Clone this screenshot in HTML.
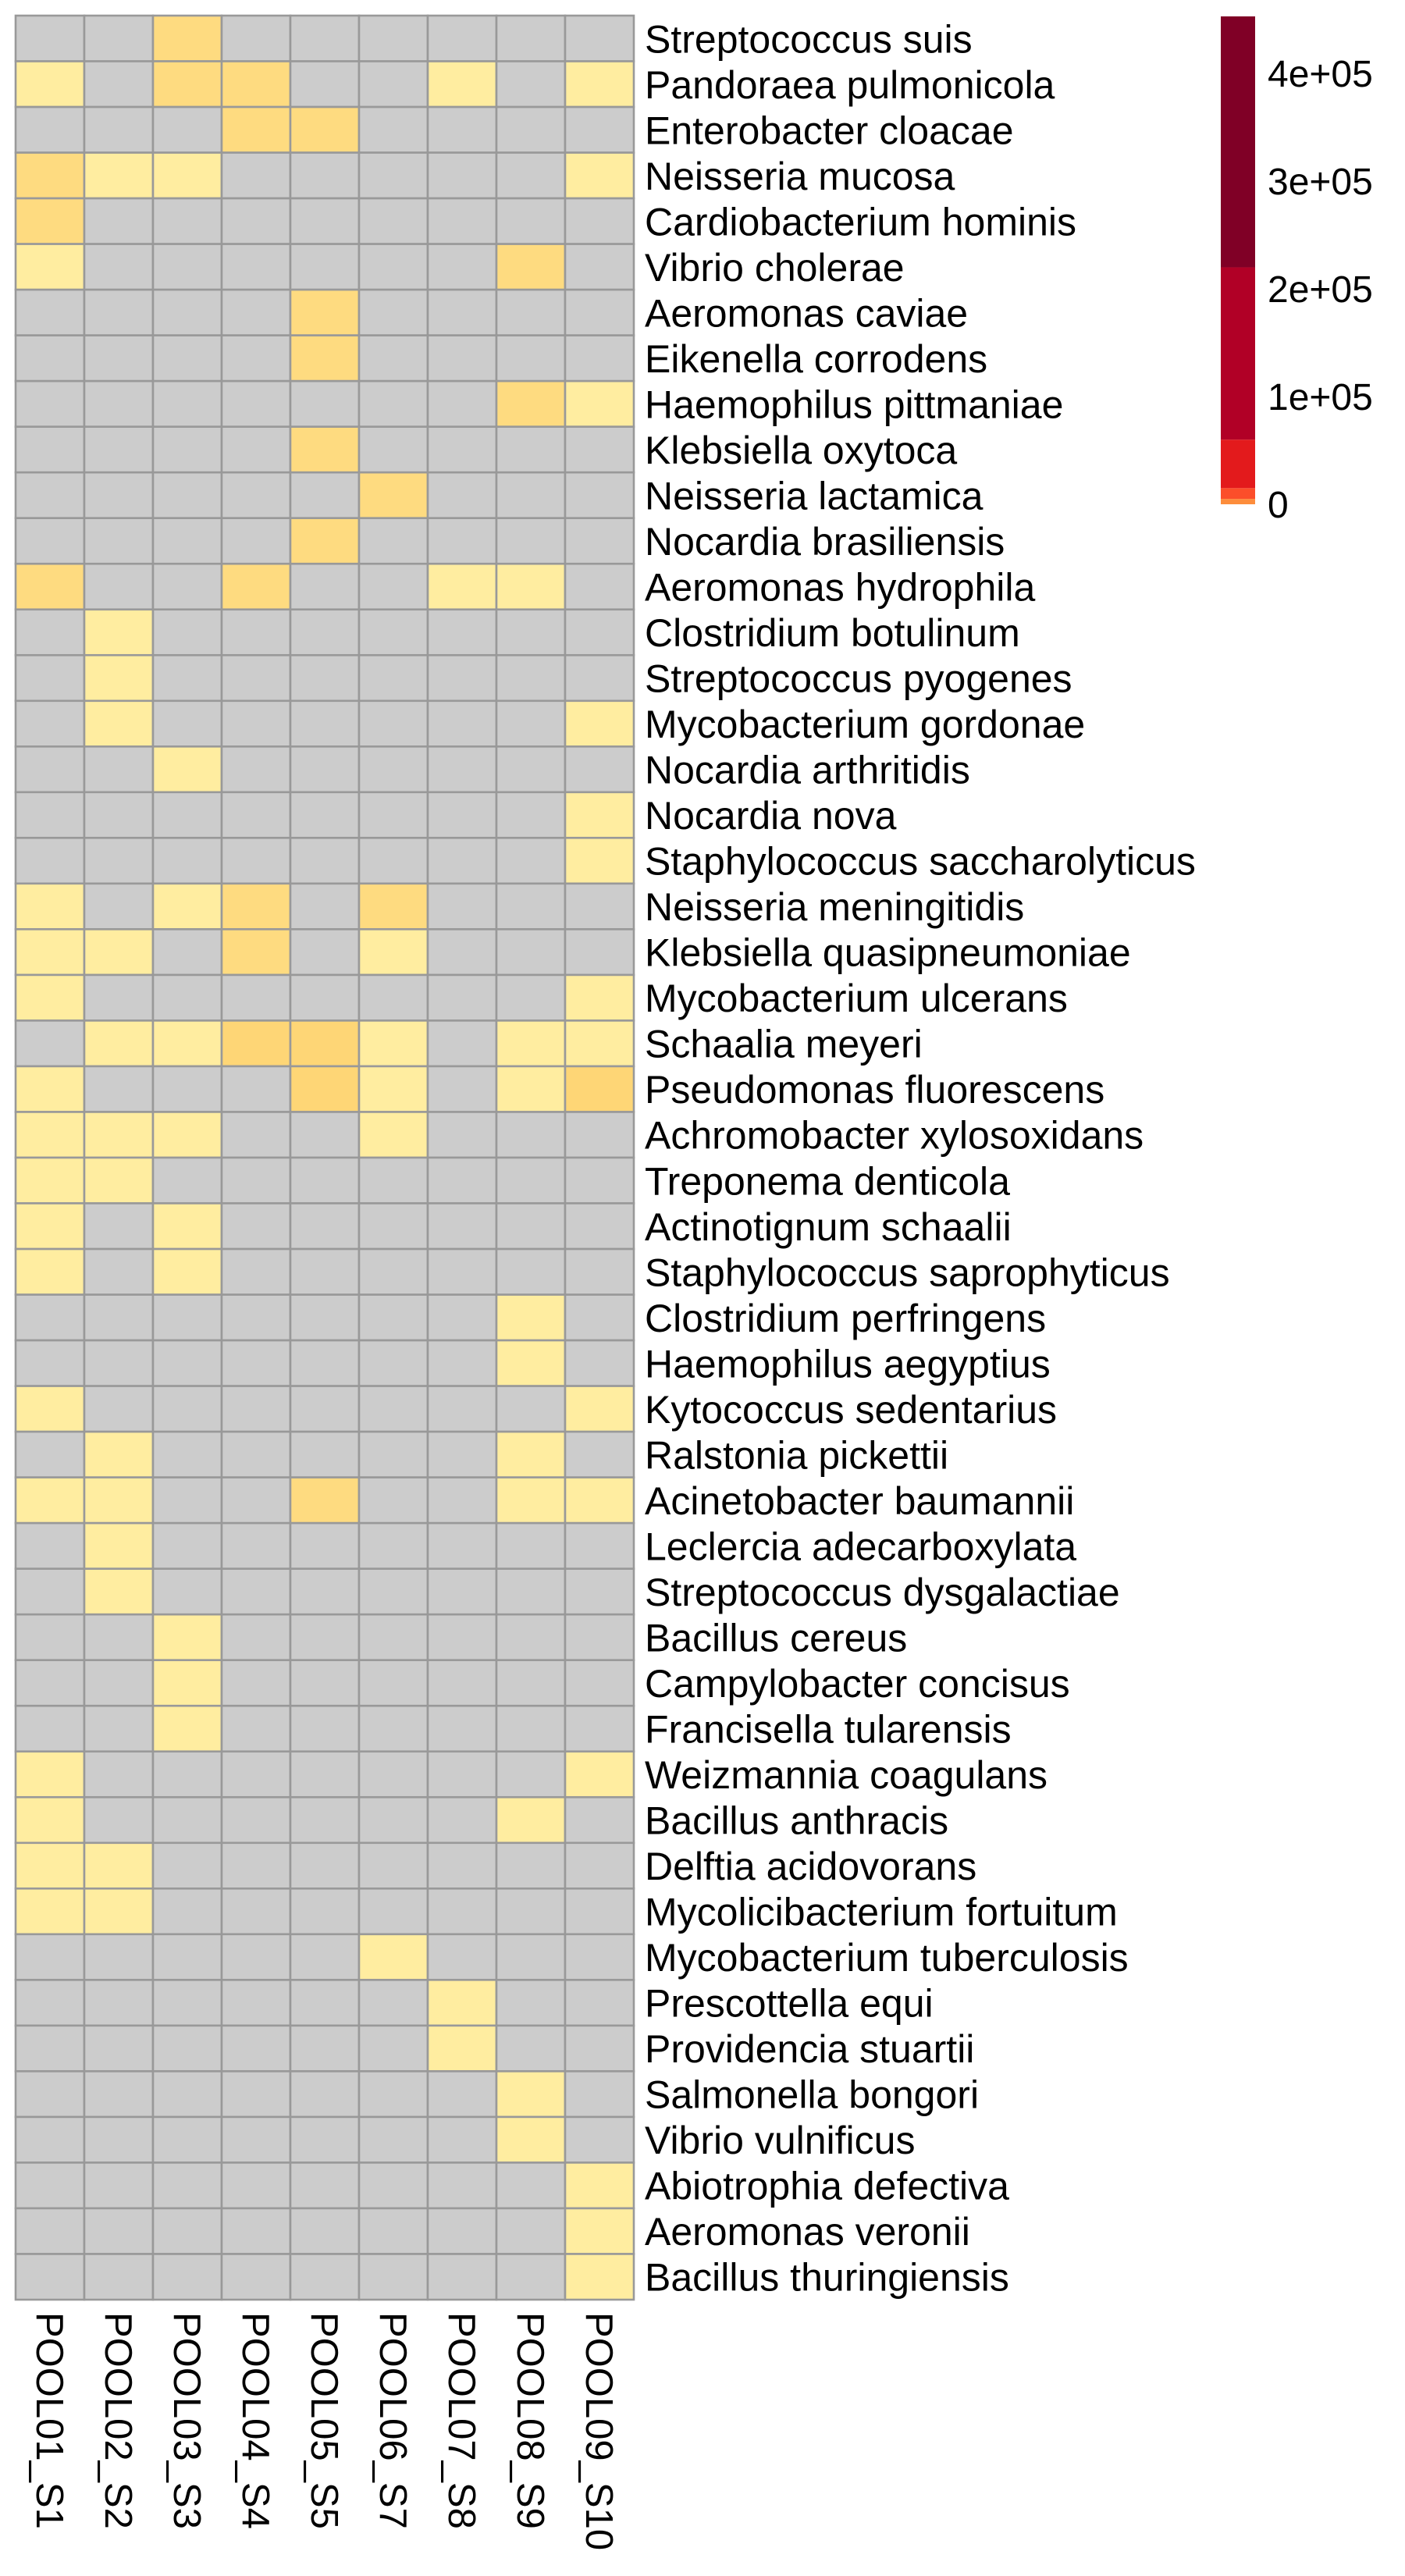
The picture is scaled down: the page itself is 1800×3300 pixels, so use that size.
<!DOCTYPE html>
<html><head><meta charset="utf-8"><style>
html,body{margin:0;padding:0;background:#fff;}
svg{display:block;font-family:"Liberation Sans",Arial,sans-serif;}
</style></head><body>
<svg id="chart" width="1800" height="3300" viewBox="0 0 1800 3300" xmlns="http://www.w3.org/2000/svg">
<g id="cells"></g>
<g id="rowlabels"></g>
<g id="collabels"></g>
<g id="legend"></g>
</svg>
<script>
const species = ["Streptococcus suis","Pandoraea pulmonicola","Enterobacter cloacae","Neisseria mucosa","Cardiobacterium hominis","Vibrio cholerae","Aeromonas caviae","Eikenella corrodens","Haemophilus pittmaniae","Klebsiella oxytoca","Neisseria lactamica","Nocardia brasiliensis","Aeromonas hydrophila","Clostridium botulinum","Streptococcus pyogenes","Mycobacterium gordonae","Nocardia arthritidis","Nocardia nova","Staphylococcus saccharolyticus","Neisseria meningitidis","Klebsiella quasipneumoniae","Mycobacterium ulcerans","Schaalia meyeri","Pseudomonas fluorescens","Achromobacter xylosoxidans","Treponema denticola","Actinotignum schaalii","Staphylococcus saprophyticus","Clostridium perfringens","Haemophilus aegyptius","Kytococcus sedentarius","Ralstonia pickettii","Acinetobacter baumannii","Leclercia adecarboxylata","Streptococcus dysgalactiae","Bacillus cereus","Campylobacter concisus","Francisella tularensis","Weizmannia coagulans","Bacillus anthracis","Delftia acidovorans","Mycolicibacterium fortuitum","Mycobacterium tuberculosis","Prescottella equi","Providencia stuartii","Salmonella bongori","Vibrio vulnificus","Abiotrophia defectiva","Aeromonas veronii","Bacillus thuringiensis"];
const samples = ["POOL01_S1","POOL02_S2","POOL03_S3","POOL04_S4","POOL05_S5","POOL06_S7","POOL07_S8","POOL08_S9","POOL09_S10"];
// values per species row (0 = absent)
const values = [
[0,0,8000,0,0,0,0,0,0],
[2000,0,8000,8000,0,0,2000,0,2000],
[0,0,0,8000,8000,0,0,0,0],
[8000,2000,2000,0,0,0,0,0,2000],
[8000,0,0,0,0,0,0,0,0],
[2000,0,0,0,0,0,0,8000,0],
[0,0,0,0,8000,0,0,0,0],
[0,0,0,0,8000,0,0,0,0],
[0,0,0,0,0,0,0,8000,2000],
[0,0,0,0,8000,0,0,0,0],
[0,0,0,0,0,8000,0,0,0],
[0,0,0,0,8000,0,0,0,0],
[8000,0,0,8000,0,0,2000,2000,0],
[0,2000,0,0,0,0,0,0,0],
[0,2000,0,0,0,0,0,0,0],
[0,2000,0,0,0,0,0,0,2000],
[0,0,2000,0,0,0,0,0,0],
[0,0,0,0,0,0,0,0,2000],
[0,0,0,0,0,0,0,0,2000],
[2000,0,2000,8000,0,8000,0,0,0],
[2000,2000,0,8000,0,2000,0,0,0],
[2000,0,0,0,0,0,0,0,2000],
[0,2000,2000,9000,9000,2000,0,2000,2000],
[2000,0,0,0,9000,2000,0,2000,9000],
[2000,2000,2000,0,0,2000,0,0,0],
[2000,2000,0,0,0,0,0,0,0],
[2000,0,2000,0,0,0,0,0,0],
[2000,0,2000,0,0,0,0,0,0],
[0,0,0,0,0,0,0,2000,0],
[0,0,0,0,0,0,0,2000,0],
[2000,0,0,0,0,0,0,0,2000],
[0,2000,0,0,0,0,0,2000,0],
[2000,2000,0,0,8000,0,0,2000,2000],
[0,2000,0,0,0,0,0,0,0],
[0,2000,0,0,0,0,0,0,0],
[0,0,2000,0,0,0,0,0,0],
[0,0,2000,0,0,0,0,0,0],
[0,0,2000,0,0,0,0,0,0],
[2000,0,0,0,0,0,0,0,2000],
[2000,0,0,0,0,0,0,2000,0],
[2000,2000,0,0,0,0,0,0,0],
[2000,2000,0,0,0,0,0,0,0],
[0,0,0,0,0,2000,0,0,0],
[0,0,0,0,0,0,2000,0,0],
[0,0,0,0,0,0,2000,0,0],
[0,0,0,0,0,0,0,2000,0],
[0,0,0,0,0,0,0,2000,0],
[0,0,0,0,0,0,0,0,2000],
[0,0,0,0,0,0,0,0,2000],
[0,0,0,0,0,0,0,0,2000]
];
const legendTicks = [0,100000,200000,300000,400000];
const legendTickLabels = ["0","1e+05","2e+05","3e+05","4e+05"];
const legendBreaks = [0,5000,15000,60000,220000,453000];
const legendColors = ["#fd8d3c","#fc4e2a","#e31a1c","#b10026","#800026"];

const NS="http://www.w3.org/2000/svg";
const gx0=20, gx1=812, gy0=20, gy1=2946;
const cw=(gx1-gx0)/samples.length, rh=(gy1-gy0)/species.length;
const xPos=i=>gx0+i*cw, yPos=j=>gy0+j*rh;
function color(v){ if(v<=0) return "#cccccc"; if(v<5000) return "#ffeda0"; if(v<8500) return "#fedb80"; return "#fed676"; }
function mk(tag,attrs,parent){const e=document.createElementNS(NS,tag);for(const k in attrs)e.setAttribute(k,attrs[k]);parent.appendChild(e);return e;}
const cells=document.getElementById('cells');
values.forEach((row,j)=>row.forEach((v,i)=>{
  const r=mk('rect',{x:xPos(i),y:yPos(j),width:cw,height:rh,fill:color(v),stroke:'#999999','stroke-width':2.6},cells);
  
  
}));
const rl=document.getElementById('rowlabels');
species.forEach((s,j)=>{
  const t=mk('text',{x:826,y:yPos(j)+rh/2+18,'font-size':50,fill:'#000'},rl);
  t.textContent=s;
  
  
});
const cl=document.getElementById('collabels');
samples.forEach((s,i)=>{
  const cx=xPos(i)+cw/2, y=gy1+16;
  const t=mk('text',{x:cx,y:y,'font-size':49,fill:'#000',transform:`rotate(90 ${cx} ${y})`,dy:17},cl);
  t.textContent=s;
  
  
});
// legend
const lg=document.getElementById('legend');
const lx=1564, lw=44, ly0=21, ly1=646, lmax=legendBreaks[legendBreaks.length-1];
const ly=v=>ly1-(v/lmax)*(ly1-ly0);
for(let k=0;k<legendColors.length;k++){
  const r=mk('rect',{x:lx,y:ly(legendBreaks[k+1]),width:lw,height:ly(legendBreaks[k])-ly(legendBreaks[k+1]),fill:legendColors[k]},lg);
  
  
}
legendTicks.forEach((v,k)=>{
  const t=mk('text',{x:1624,y:ly(v)+17,'font-size':48,fill:'#000'},lg);
  t.textContent=legendTickLabels[k];
  
  
});
</script>
</body></html>
